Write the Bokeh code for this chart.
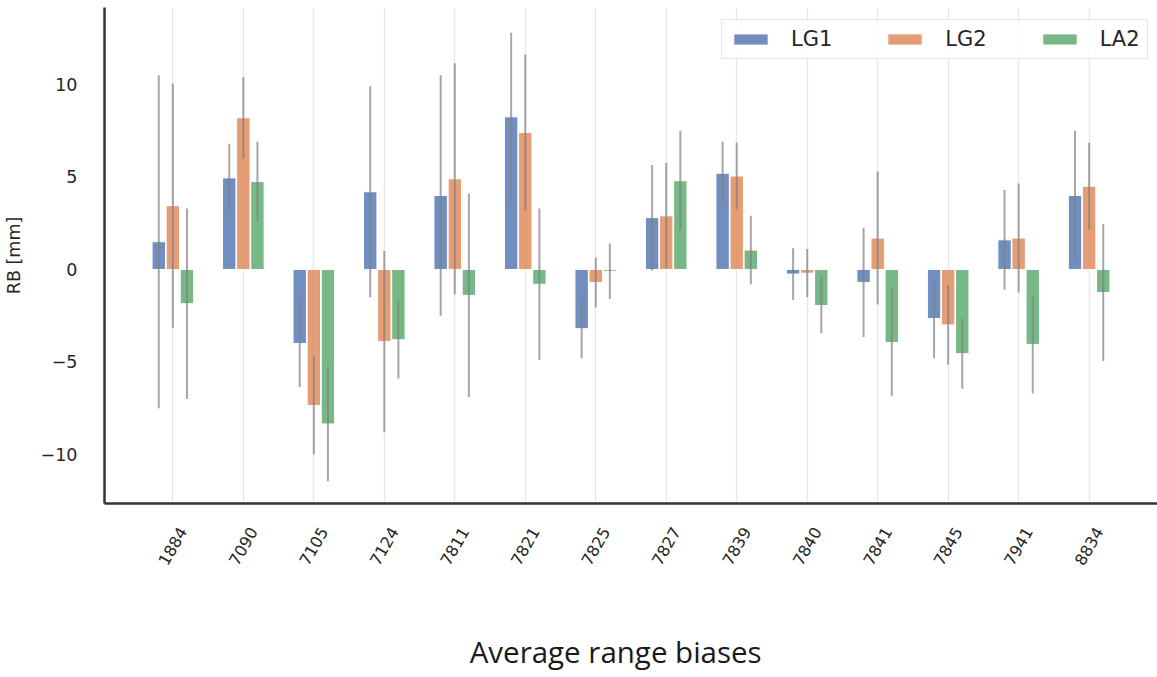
import math
from bokeh.plotting import figure
from bokeh.models import (ColumnDataSource, Range1d, FixedTicker, LinearAxis, Grid)
from bokeh.transform import dodge
from bokeh.embed import file_html
from bokeh.resources import INLINE

sites = ["1884", "7090", "7105", "7124", "7811", "7821", "7825",
         "7827", "7839", "7840", "7841", "7845", "7941", "8834"]
series = ["LG1", "LG2", "LA2"]

lg1 = [1.5, 4.95, -4.0, 4.2, 4.0, 8.25, -3.2, 2.8, 5.2, -0.25, -0.7, -2.65, 1.6, 4.0]
lg1_err = [9.0, 1.85, 2.35, 5.7, 6.5, 4.55, 1.6, 2.85, 1.7, 1.4, 2.95, 2.15, 2.7, 3.5]
lg2 = [3.45, 8.2, -7.35, -3.9, 4.9, 7.4, -0.7, 2.9, 5.05, -0.2, 1.7, -3.0, 1.7, 4.5]
lg2_err = [6.6, 2.2, 2.65, 4.9, 6.25, 4.2, 1.35, 2.85, 1.8, 1.3, 3.6, 2.15, 2.95, 2.35]
la2 = [-1.85, 4.75, -8.35, -3.8, -1.4, -0.8, -0.1, 4.8, 1.05, -1.95, -3.95, -4.55, -4.05, -1.25]
la2_err = [5.15, 2.15, 3.1, 2.1, 5.5, 4.1, 1.5, 2.7, 1.85, 1.5, 2.9, 1.9, 2.65, 3.7]

yticks = [-10, -5, 0, 5, 10]
ytick_labels = ["\u221210", "\u22125", "0", "5", "10"]

colors = ["#4C72B0", "#DD8452", "#55A868"]
offsets = [-0.2, 0.0, 0.2]

means = [lg1, lg2, la2]
errs = [lg1_err, lg2_err, la2_err]

n = len(sites)
idx = list(range(n))
X0, X1 = -0.97, n - 1 + 0.97

p = figure(
    x_range=Range1d(X0, X1),
    y_range=Range1d(-12.65, 14.16),
    x_axis_type=None,
    width=1157, height=677,
    output_backend="svg", toolbar_location=None,
    min_border_left=104, min_border_right=0, min_border_top=7, min_border_bottom=174,
)

# vertical grid lines at the categories
xgrid = Grid(dimension=0, ticker=FixedTicker(ticks=idx),
             grid_line_color="#e8e8e8", grid_line_width=1.5)
p.add_layout(xgrid)
p.ygrid.grid_line_color = None
p.outline_line_color = None

for name, m, e, c, off in zip(series, means, errs, colors, offsets):
    src = ColumnDataSource(dict(
        idx=idx, site=sites, val=m,
        lo=[a - b for a, b in zip(m, e)],
        hi=[a + b for a, b in zip(m, e)],
    ))
    xs = dodge("idx", off)
    p.vbar(x=xs, top="val", bottom=0, width=0.19, source=src,
           fill_color=c, fill_alpha=0.8, line_color="white", line_width=1,
           legend_label=name)
    p.segment(x0=xs, y0="lo", x1=xs, y1="hi", source=src,
              line_color="#808080", line_alpha=0.7, line_width=2)

# label axis, shifted so that the rotated labels are centred on each category
shift = 0.14
p.extra_x_ranges = {"lab": Range1d(X0 - shift, X1 - shift)}
lab_axis = LinearAxis(
    x_range_name="lab",
    ticker=FixedTicker(ticks=idx),
    major_label_overrides={i: s for i, s in zip(idx, sites)},
)
p.add_layout(lab_axis, "below")

for ax in (lab_axis, p.yaxis[0]):
    ax.axis_line_color = "#333333"
    ax.axis_line_width = 2.5
    ax.major_tick_line_color = None
    ax.minor_tick_line_color = None
    ax.major_label_text_color = "#262626"
    ax.major_label_text_font = "DejaVu Sans"

p.yaxis.ticker = FixedTicker(ticks=yticks)
p.yaxis.major_label_overrides = {t: l for t, l in zip(yticks, ytick_labels)}
p.yaxis.major_label_text_font_size = "17.5px"
p.yaxis.major_label_standoff = 21
p.yaxis.axis_label = "RB [mm]"
p.yaxis.axis_label_text_font = "DejaVu Sans"
p.yaxis.axis_label_text_font_size = "17.5px"
p.yaxis.axis_label_text_font_style = "normal"
p.yaxis.axis_label_text_color = "#262626"
p.yaxis.axis_label_standoff = 14

lab_axis.major_label_orientation = math.pi / 3
lab_axis.major_label_text_font_size = "16px"
lab_axis.major_label_standoff = 19
# trailing no-break spaces nudge the centred label to the left, as in the reference
lab_axis.axis_label = "Average range biases" + "\u00a0" * 4
lab_axis.axis_label_text_font = "Open Sans"
lab_axis.axis_label_text_font_size = "29.5px"
lab_axis.axis_label_text_font_style = "normal"
lab_axis.axis_label_text_color = "#1a1a1a"
lab_axis.axis_label_standoff = 58

# legend
lg = p.legend[0]
lg.orientation = "horizontal"
lg.location = (617, 444)
lg.label_text_font = "DejaVu Sans"
lg.label_text_font_size = "21px"
lg.label_text_color = "#262626"
lg.glyph_width = 43
lg.glyph_height = 14
lg.label_standoff = 19
lg.spacing = 51
lg.padding = 7
lg.border_line_color = "#cccccc"
lg.border_line_width = 1.5
lg.background_fill_color = "white"
lg.background_fill_alpha = 0.8
lg.margin = 0

open("out.html", "w").write(file_html(p, INLINE))
